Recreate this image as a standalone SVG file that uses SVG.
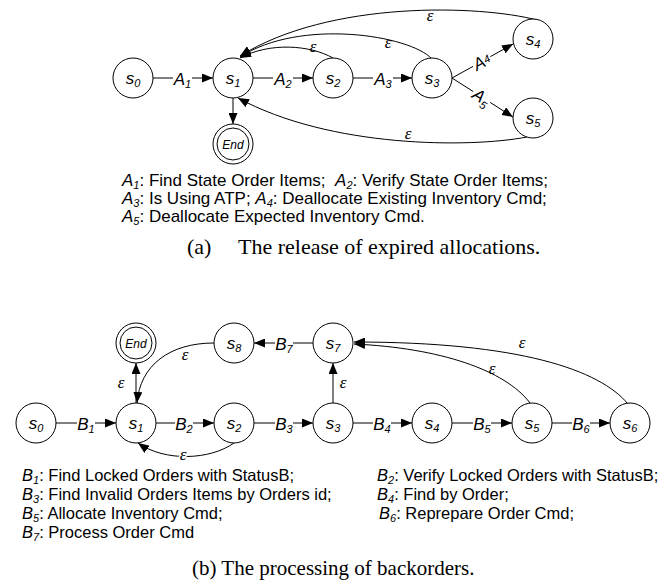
<svg xmlns="http://www.w3.org/2000/svg" width="667" height="585" viewBox="0 0 667 585">
<defs>
<style>
.n{fill:#fff;stroke:#000;stroke-width:1}
.e{fill:none;stroke:#000;stroke-width:1}
.nl{font-family:"Liberation Sans",Arial,sans-serif;font-style:italic;font-size:17px;fill:#000;text-anchor:middle}
.sb{font-size:11px}
.eps{font-family:"Liberation Serif","Times New Roman",serif;font-style:italic;font-size:17px;fill:#000;text-anchor:middle}
.halo{stroke:#fff;stroke-width:3;paint-order:stroke}
.leg{font-family:"Liberation Sans",Arial,sans-serif;font-size:16.5px;fill:#000}
.lega{font-family:"Liberation Sans",Arial,sans-serif;font-size:17px;fill:#000}
.it{font-style:italic}
.cap{font-family:"Liberation Serif","Times New Roman",serif;font-size:21px;fill:#000}
.capa{font-family:"Liberation Serif","Times New Roman",serif;font-size:22px;fill:#000}
.endt{font-family:"Liberation Sans",Arial,sans-serif;font-style:italic;font-size:12px;fill:#000;text-anchor:middle}
</style>
<marker id="ah" viewBox="0 0 11 9" refX="11" refY="4.5" markerWidth="11" markerHeight="9" markerUnits="userSpaceOnUse" orient="auto"><path d="M0,0 L11,4.5 L0,9 z" fill="#000"/></marker>
</defs>
<rect width="667" height="585" fill="#fff"/>

<!-- connectors -->
<g id="connectors" class="e" marker-end="url(#ah)">
<!-- (a) -->
<path d="M153,78 H173 M192,78 H213"/>
<path d="M253,78 H273 M293,78 H313"/>
<path d="M353,78 H373 M393,78 H412"/>
<path d="M452,78 L473,66.4 M490.4,56.6 L513,44"/>
<path d="M452,78 L473.3,91.6 M490.1,102.4 L513,117"/>
<path d="M233,98 V124"/>
<path d="M333,58 C310,45 270,42 240,58"/>
<path d="M432,59 C410,35 300,18 240,57"/>
<path d="M537,20 C480,5 330,0 240,56"/>
<path d="M527,137 C470,148 330,148 238,98"/>
<!-- (b) -->
<path d="M56,423 H77 M95,423 H116"/>
<path d="M156,423 H175 M193,423 H214"/>
<path d="M254,423 H275 M293,423 H313"/>
<path d="M353,423 H373 M391,423 H412"/>
<path d="M452,423 H473 M491,423 H512"/>
<path d="M552,423 H572 M590,423 H610"/>
<path d="M313,343 H293 M275,343 H254"/>
<path d="M333,403 V363"/>
<path d="M136,403 V363"/>
<path d="M214,343 C170,343 140,365 137,403"/>
<path d="M234,443 C210,460 165,462 138,443"/>
<path d="M530,403 C505,370 440,348 354,344"/>
<path d="M628,404 C600,370 520,342 354,342"/>
</g>

<g id="edge-labels">
<text class="nl" x="182.5" y="85">A<tspan class="sb" dy="3">1</tspan></text>
<text class="nl" x="283" y="85">A<tspan class="sb" dy="3">2</tspan></text>
<text class="nl" x="383" y="85">A<tspan class="sb" dy="3">3</tspan></text>
<text class="nl" transform="translate(481.7,61.5) rotate(-29.1)" x="0" y="6">A<tspan class="sb" dy="-2">4</tspan></text>
<text class="nl" transform="translate(481.7,97) rotate(32.6)" x="0" y="6">A<tspan class="sb" dy="4">5</tspan></text>
<text class="eps" x="313" y="52">ε</text>
<text class="eps" x="388" y="48">ε</text>
<text class="eps" x="430" y="21">ε</text>
<text class="eps" x="408" y="139">ε</text>

<text class="nl" x="86" y="430">B<tspan class="sb" dy="3">1</tspan></text>
<text class="nl" x="184" y="430">B<tspan class="sb" dy="3">2</tspan></text>
<text class="nl" x="284" y="430">B<tspan class="sb" dy="3">3</tspan></text>
<text class="nl" x="382" y="430">B<tspan class="sb" dy="3">4</tspan></text>
<text class="nl" x="482" y="430">B<tspan class="sb" dy="3">5</tspan></text>
<text class="nl" x="581" y="430">B<tspan class="sb" dy="3">6</tspan></text>
<text class="nl" x="284" y="350">B<tspan class="sb" dy="3">7</tspan></text>
<text class="eps" x="343" y="388">ε</text>
<text class="eps" x="121" y="388">ε</text>
<text class="eps" x="185" y="360">ε</text>
<text class="eps halo" x="183" y="460">ε</text>
<text class="eps" x="492" y="374">ε</text>
<text class="eps" x="522" y="348">ε</text>
</g>

<!-- nodes (a) -->
<g id="a_s0"><circle class="n" cx="133" cy="78" r="20"/><text class="nl" x="133" y="84">s<tspan class="sb" dy="3">0</tspan></text></g>
<g id="a_s1"><circle class="n" cx="233" cy="78" r="20"/><text class="nl" x="233" y="84">s<tspan class="sb" dy="3">1</tspan></text></g>
<g id="a_s2"><circle class="n" cx="333" cy="78" r="20"/><text class="nl" x="333" y="84">s<tspan class="sb" dy="3">2</tspan></text></g>
<g id="a_s3"><circle class="n" cx="432" cy="78" r="20"/><text class="nl" x="432" y="84">s<tspan class="sb" dy="3">3</tspan></text></g>
<g id="a_s4"><circle class="n" cx="533" cy="39" r="20"/><text class="nl" x="533" y="45">s<tspan class="sb" dy="3">4</tspan></text></g>
<g id="a_s5"><circle class="n" cx="533" cy="118" r="20"/><text class="nl" x="533" y="124">s<tspan class="sb" dy="3">5</tspan></text></g>
<g id="a_end"><circle class="n" cx="233" cy="144" r="20"/><circle class="n" cx="233" cy="144" r="16"/><text class="endt" x="233" y="148.5">End</text></g>

<!-- nodes (b) -->
<g id="b_s0"><circle class="n" cx="36" cy="423" r="20"/><text class="nl" x="36" y="429">s<tspan class="sb" dy="3">0</tspan></text></g>
<g id="b_s1"><circle class="n" cx="136" cy="423" r="20"/><text class="nl" x="136" y="429">s<tspan class="sb" dy="3">1</tspan></text></g>
<g id="b_s2"><circle class="n" cx="234" cy="423" r="20"/><text class="nl" x="234" y="429">s<tspan class="sb" dy="3">2</tspan></text></g>
<g id="b_s3"><circle class="n" cx="333" cy="423" r="20"/><text class="nl" x="333" y="429">s<tspan class="sb" dy="3">3</tspan></text></g>
<g id="b_s4"><circle class="n" cx="432" cy="423" r="20"/><text class="nl" x="432" y="429">s<tspan class="sb" dy="3">4</tspan></text></g>
<g id="b_s5"><circle class="n" cx="532" cy="423" r="20"/><text class="nl" x="532" y="429">s<tspan class="sb" dy="3">5</tspan></text></g>
<g id="b_s6"><circle class="n" cx="630" cy="423" r="20"/><text class="nl" x="630" y="429">s<tspan class="sb" dy="3">6</tspan></text></g>
<g id="b_s7"><circle class="n" cx="333" cy="343" r="20"/><text class="nl" x="333" y="349">s<tspan class="sb" dy="3">7</tspan></text></g>
<g id="b_s8"><circle class="n" cx="234" cy="343" r="20"/><text class="nl" x="234" y="349">s<tspan class="sb" dy="3">8</tspan></text></g>
<g id="b_end"><circle class="n" cx="136" cy="343" r="20"/><circle class="n" cx="136" cy="343" r="16"/><text class="endt" x="136" y="347.5">End</text></g>

<!-- legend (a) -->
<g id="legend_a" class="lega">
<text x="122" y="186"><tspan class="it">A</tspan><tspan class="it sb" dy="2.5">1</tspan><tspan dy="-2.5">: Find State Order Items;&#160; </tspan><tspan class="it">A</tspan><tspan class="it sb" dy="2.5">2</tspan><tspan dy="-2.5">: Verify State Order Items;</tspan></text>
<text x="122" y="204"><tspan class="it">A</tspan><tspan class="it sb" dy="2.5">3</tspan><tspan dy="-2.5">: Is Using ATP; </tspan><tspan class="it">A</tspan><tspan class="it sb" dy="2.5">4</tspan><tspan dy="-2.5">: Deallocate Existing Inventory Cmd;</tspan></text>
<text x="122" y="222"><tspan class="it">A</tspan><tspan class="it sb" dy="2.5">5</tspan><tspan dy="-2.5">: Deallocate Expected Inventory Cmd.</tspan></text>
</g>
<text class="capa" x="187" y="254">(a)<tspan x="238">The release of expired allocations.</tspan></text>

<!-- legend (b) -->
<g id="legend_b" class="leg">
<text x="22" y="481"><tspan class="it">B</tspan><tspan class="it sb" dy="3">1</tspan><tspan dy="-3">: Find Locked Orders with StatusB;</tspan></text>
<text x="22" y="500"><tspan class="it">B</tspan><tspan class="it sb" dy="3">3</tspan><tspan dy="-3">: Find Invalid Orders Items by Orders id;</tspan></text>
<text x="22" y="519"><tspan class="it">B</tspan><tspan class="it sb" dy="3">5</tspan><tspan dy="-3">: Allocate Inventory Cmd;</tspan></text>
<text x="22" y="538"><tspan class="it">B</tspan><tspan class="it sb" dy="3">7</tspan><tspan dy="-3">: Process Order Cmd</tspan></text>
<text x="377" y="481"><tspan class="it">B</tspan><tspan class="it sb" dy="3">2</tspan><tspan dy="-3">: Verify Locked Orders with StatusB;</tspan></text>
<text x="377" y="500"><tspan class="it">B</tspan><tspan class="it sb" dy="3">4</tspan><tspan dy="-3">: Find by Order;</tspan></text>
<text x="379" y="519"><tspan class="it">B</tspan><tspan class="it sb" dy="3">6</tspan><tspan dy="-3">: Reprepare Order Cmd;</tspan></text>
</g>
<text class="cap" x="192" y="575">(b) The processing of backorders.</text>
</svg>
